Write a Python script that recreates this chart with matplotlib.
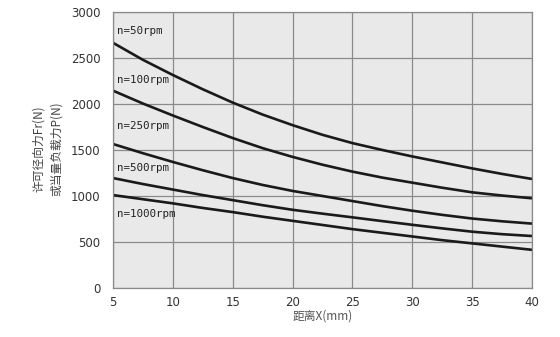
import matplotlib
matplotlib.use("Agg")
import matplotlib.pyplot as plt

# distance X (mm)
x_mm = [5, 7.5, 10, 12.5, 15, 17.5, 20, 22.5, 25, 27.5, 30, 32.5, 35, 37.5, 40]

# allowable radial load per speed (N)
load_50 = [2665, 2480, 2315, 2160, 2015, 1885, 1770, 1665, 1575, 1500, 1430, 1365, 1300, 1240, 1185]
load_100 = [2145, 2005, 1875, 1750, 1630, 1520, 1425, 1340, 1265, 1200, 1145, 1090, 1040, 1005, 975]
load_250 = [1565, 1465, 1370, 1280, 1195, 1120, 1055, 1000, 945, 890, 840, 795, 755, 725, 700]
load_500 = [1195, 1130, 1070, 1010, 955, 900, 850, 808, 768, 727, 687, 648, 612, 585, 565]
load_1000 = [1010, 965, 920, 870, 825, 775, 730, 685, 640, 600, 560, 520, 485, 450, 415]

series = [load_50, load_100, load_250, load_500, load_1000]
labels = ["n=50rpm", "n=100rpm", "n=250rpm", "n=500rpm", "n=1000rpm"]
label_y = [2790, 2265, 1760, 1305, 800]

x_ticks = [5, 10, 15, 20, 25, 30, 35, 40]
y_ticks = [0, 500, 1000, 1500, 2000, 2500, 3000]

cjk = ["Noto Sans CJK SC", "DejaVu Sans"]

fig = plt.figure(figsize=(5.6, 3.37), dpi=100)
ax = fig.add_axes([0.2018, 0.1454, 0.7482, 0.819])
ax.set_facecolor("#e9e9e9")

for vals in series:
    ax.plot(x_mm, vals, color="#1a1a1a", lw=1.9, solid_capstyle="butt")

for txt, yv in zip(labels, label_y):
    ax.text(5.35, yv, txt, fontsize=7.8, family="DejaVu Sans Mono",
            color="#222222", va="center", ha="left")

ax.set_xlim(5, 40)
ax.set_ylim(0, 3000)
ax.set_xticks(x_ticks)
ax.set_yticks(y_ticks)
ax.grid(True, color="#8a8a8a", lw=0.9)
ax.set_axisbelow(True)
ax.tick_params(length=0, labelsize=8.5, colors="#333333")
ax.tick_params(axis="y", pad=9)
ax.tick_params(axis="x", pad=6)
for s in ax.spines.values():
    s.set_color("#8a8a8a")
    s.set_linewidth(0.9)

ax.set_xlabel("距离X(mm)", family=cjk, fontsize=8.5, color="#555555", labelpad=0)
fig.text(0.068, 0.56, "许可径向力Fr(N)", rotation=90, family=cjk, fontsize=8.5,
         color="#444444", ha="center", va="center")
fig.text(0.100, 0.56, "或当量负载力P(N)", rotation=90, family=cjk, fontsize=8.5,
         color="#444444", ha="center", va="center")

fig.savefig("out.png", dpi=100)
